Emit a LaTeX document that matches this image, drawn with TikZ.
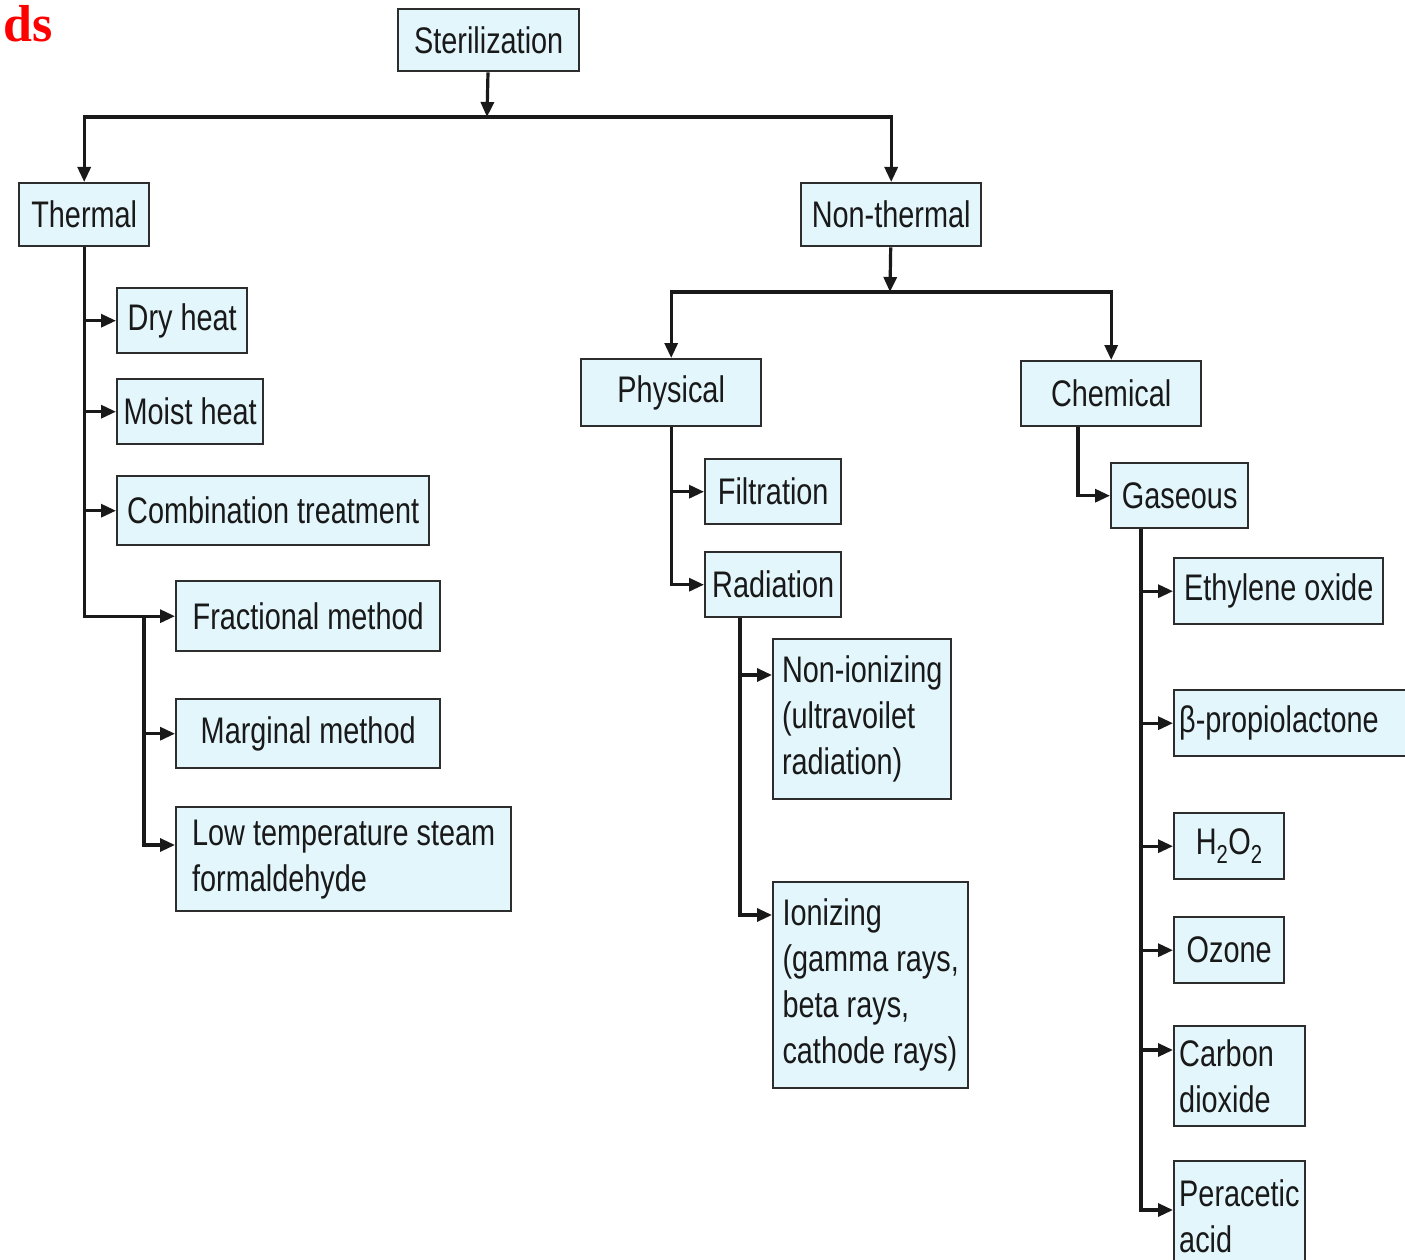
\documentclass[tikz,border=0pt]{standalone}
\usepackage{fontspec}
\setmainfont{Liberation Sans}[FakeStretch=0.78]
\newfontfamily\titlefont{Liberation Serif}
\usetikzlibrary{arrows.meta}
\definecolor{boxfill}{RGB}{226,246,252}
\definecolor{boxline}{RGB}{45,45,45}
\definecolor{titlered}{RGB}{255,0,0}
\tikzset{
  box/.style={draw=boxline, fill=boxfill, line width=2.4pt, anchor=north west,
    align=left, inner xsep=5pt, inner ysep=4pt,
    font=\fontsize{37}{46}\selectfont, text=black!90},
  lbox/.style={box, text width=#1},
  link/.style={line width=3.2pt, draw=black!90},
  arr/.style={link, -{Triangle[length=15pt,width=13pt]}},
}

\begin{document}
\begin{tikzpicture}[x=1pt,y=-1pt]
\useasboundingbox (0,0) rectangle (1405,1260);

% title fragment
\node[anchor=base west, inner sep=0, text=titlered,
  font=\titlefont\bfseries\fontsize{52}{52}\selectfont] (title) at (3,42) {ds};

% top levels
\node[box, minimum width=181pt, minimum height=62pt] (ster) at (397,8) {Sterilization};
\node[box, minimum width=130pt, minimum height=63pt] (therm) at (18,182) {Thermal};
\node[box, minimum width=180pt, minimum height=63pt] (nontherm) at (800,182) {Non-thermal};

% thermal
\node[box, minimum width=130pt, minimum height=65pt] (dry) at (116,287) {Dry heat};
\node[box, minimum width=146pt, minimum height=65pt] (moist) at (116,378) {Moist heat};
\node[box, minimum width=312pt, minimum height=69pt] (comb) at (116,475) {Combination treatment};
\node[box, minimum width=264pt, minimum height=70pt] (frac) at (175,580) {Fractional method};
\node[box, minimum width=264pt, minimum height=69pt] (marg) at (175,698) {Marginal method};
\node[box, minimum width=335pt, minimum height=104pt] (lowt) at (175,806) {Low temperature steam\\formaldehyde};

% non-thermal
\node[box, minimum width=180pt, minimum height=67pt] (phys) at (580,358) {Physical};
\node[box, minimum width=180pt, minimum height=65pt] (chem) at (1020,360) {Chemical};
\node[box, minimum width=136pt, minimum height=65pt] (filt) at (704,458) {Filtration};
\node[box, minimum width=136pt, minimum height=65pt] (rad) at (704,551) {Radiation};
\node[box, minimum width=178pt, minimum height=160pt] (nonion) at (772,638) {Non-ionizing\\(ultravoilet\\radiation)};
\node[box, minimum width=195pt, minimum height=206pt] (ion) at (772,881) {Ionizing\\(gamma rays,\\beta rays,\\cathode rays)};

% chemical
\node[box, minimum width=137pt, minimum height=65pt] (gas) at (1110,462) {Gaseous};
\node[box, minimum width=209pt, minimum height=66pt] (eth) at (1173,557) {Ethylene oxide};
\node[lbox=226pt, minimum height=66pt] (prop) at (1173,689) {β-propiolactone};
\node[box, minimum width=110pt, minimum height=66pt] (hyd) at (1173,812) {H\textsubscript{2}O\textsubscript{2}};
\node[box, minimum width=110pt, minimum height=66pt] (ozone) at (1173,916) {Ozone};
\node[lbox=121pt, minimum height=100pt] (carb) at (1173,1025) {Carbon\\dioxide};
\node[lbox=121pt, minimum height=110pt] (perac) at (1173,1160) {Peracetic\\acid};

% connectors
\coordinate (s1) at (487,117);
\coordinate (s2) at (890,292);
\coordinate (fork) at (144,615);

\draw[arr] (ster) -- (s1);
\draw[arr] (s1) -| (therm);
\draw[arr] (s1) -| (nontherm);

\draw[arr] (therm) |- (dry);
\draw[arr] (therm) |- (moist);
\draw[arr] (therm) |- (comb);
\draw[arr] (therm) |- (frac);
\draw[arr] (fork) |- (marg);
\draw[arr] (fork) |- ([yshift=-39pt]lowt.north west);

\draw[arr] (nontherm) -- (s2);
\draw[arr] (s2) -| (phys);
\draw[arr] (s2) -| (chem);

\draw[arr] (phys) |- (filt);
\draw[arr] (phys) |- (rad);
\draw[arr] ([xshift=36pt]rad.south west) |- ([yshift=-37pt]nonion.north west);
\draw[arr] ([xshift=36pt]rad.south west) |- ([yshift=-34pt]ion.north west);

\draw[arr] ([xshift=58pt]chem.south west) |- (gas);
\draw[arr] ([xshift=31pt]gas.south west) |- (eth);
\draw[arr] ([xshift=31pt]gas.south west) |- (prop);
\draw[arr] ([xshift=31pt]gas.south west) |- (hyd);
\draw[arr] ([xshift=31pt]gas.south west) |- (ozone);
\draw[arr] ([xshift=31pt]gas.south west) |- ([yshift=-25pt]carb.north west);
\draw[arr] ([xshift=31pt]gas.south west) |- ([yshift=-50pt]perac.north west);
\end{tikzpicture}
\end{document}
